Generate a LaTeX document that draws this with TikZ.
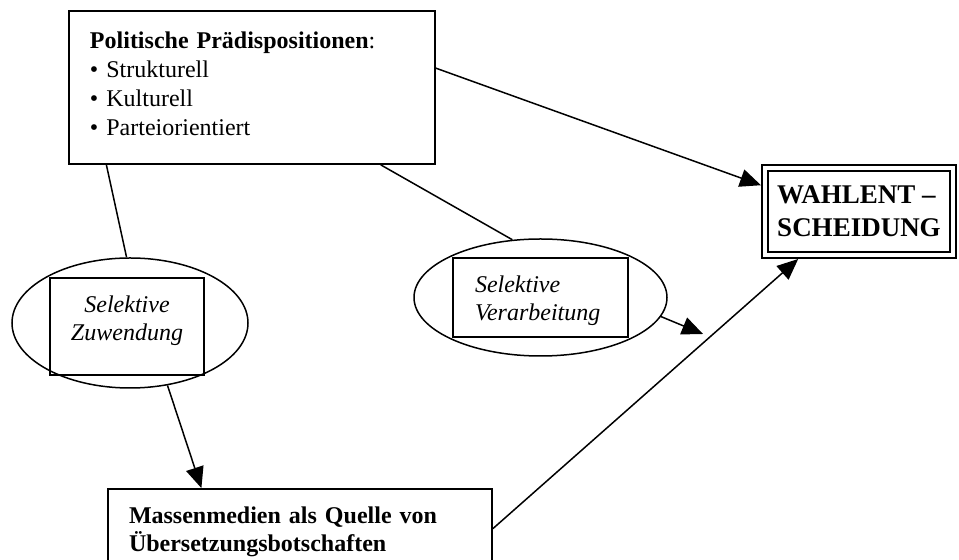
\documentclass[tikz,border=0pt]{standalone}
\usepackage{fontspec}
\setmainfont{Liberation Serif}
\usetikzlibrary{arrows.meta,shapes.geometric}

\begin{document}
\begin{tikzpicture}[x=0.5pt, y=-0.5pt, font=\fontsize{12}{14}\selectfont,
        frame/.style={draw, line width=0.9pt, align=left, inner xsep=10.5pt,
                      inner ysep=0pt},
        oval/.style={draw, ellipse, line width=0.75pt, inner sep=0pt},
        inbox/.style={draw, line width=0.9pt, inner sep=0pt,
                      font=\fontsize{12}{14}\selectfont\itshape},
        arr/.style={-{Triangle[length=10.5pt, width=9pt]}, line width=0.75pt},
        link/.style={line width=0.75pt}]
      \useasboundingbox (0,0) rectangle (959,560);
      % Praedispositionen
      \node[frame, text width=162pt, minimum height=76.5pt,
            font=\fontsize{12}{14.5}\selectfont] (praed) at (252,87.5)
            {\textbf{Politische Prädispositionen}:\\
             \textbullet\ Strukturell\\
             \textbullet\ Kulturell\\
             \textbullet\ Parteiorientiert\rule[-4pt]{0pt}{0pt}};
      % Wahlentscheidung (doppelter Rahmen)
      \node[draw, double, double distance=2pt, line width=0.9pt, outer sep=1.9pt,
            minimum width=94.2pt, minimum height=43.7pt, align=left,
            font=\fontsize{13.5}{16.5}\selectfont\bfseries] (wahl) at (859,211.5)
            {WAHLENT –\\SCHEIDUNG};
      % selektive Zuwendung
      \node[oval, minimum width=118pt, minimum height=65pt] (zuwEll) at (130,323) {};
      \node[inbox, minimum width=77pt, minimum height=48.5pt, align=center]
            (zuwBox) at (127,326.5) {Selektive\\Zuwendung\rule[-8.5pt]{0pt}{0pt}};
      % selektive Verarbeitung
      \node[oval, minimum width=126.5pt, minimum height=58.5pt] (verEll) at (540.5,297.5) {};
      \node[inbox, minimum width=87.5pt, minimum height=39.5pt, text width=65.5pt,
            inner xsep=11pt, align=left] (verBox) at (540.5,297.5)
            {\rule{0pt}{11.2pt}Selektive\\Verarbeitung};
      \coordinate (verEnd) at (703,334);
      % Massenmedien
      \node[frame, text width=171pt, minimum height=43pt, font=\fontsize{12}{14}\selectfont\bfseries]
            (medien) at (300,532)
            {Massenmedien als Quelle von\\Übersetzungsbotschaften};

      \draw[arr]  (praed.6)    -- (wahl.165);
      \draw[link] (praed.208)  -- (zuwEll.93);
      \draw[link] (praed.-31)  -- (verEll.116);
      \draw[arr]  (zuwEll.-59) -- (medien.156);
      \draw[arr]  (verEll.-9)  -- (verEnd);
      \draw[arr]  (medien.1)   -- (wahl.218);
    \end{tikzpicture}
\end{document}
